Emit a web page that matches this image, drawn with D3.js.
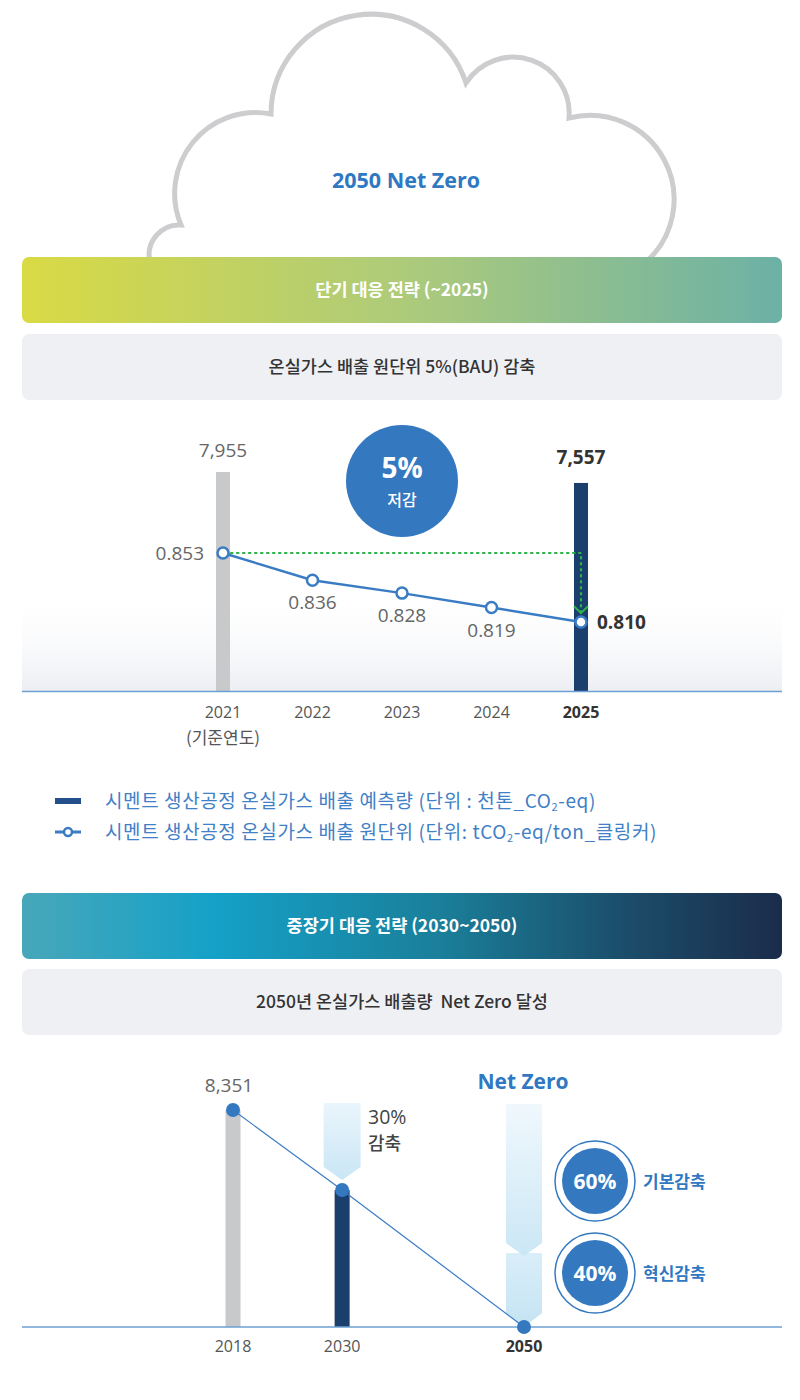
<!DOCTYPE html>
<html><head><meta charset="utf-8">
<script src="https://cdn.jsdelivr.net/npm/d3@7"></script>
<style>body{margin:0;background:#fff}svg{display:block}</style>
</head><body><svg id="c" width="800" height="1400"></svg>
<script>
// ---- data ----
const shortYears = ["2021","2022","2023","2024","2025"];
const shortIntensity = [0.853,0.836,0.828,0.819,0.810];
const barYears = ["2021","2025"];
const barValues = [7955,7557];
const longYears = [2018,2030,2050];
const longValues = [8351,5270,0];
const reductionShares = [60,40];
const reductionLabels = ["기본감축","혁신감축"];
const legendLabels = ["시멘트 생산공정 온실가스 배출 예측량 (단위 : 천톤_CO","시멘트 생산공정 온실가스 배출 원단위 (단위: tCO"];
const legendSuffix = ["-eq)","-eq/ton_클링커)"];

const KR = "'Noto Sans CJK KR','Noto Sans',sans-serif";
const NUM = "'Open Sans','Noto Sans',sans-serif";
const svg = d3.select("#c");
const defs = svg.append("defs");
function lg(id, stops, vertical){
  const g = defs.append("linearGradient").attr("id",id);
  if(vertical) g.attr("x1",0).attr("y1",0).attr("x2",0).attr("y2",1);
  stops.forEach(s=>g.append("stop").attr("offset",s[0]).attr("stop-color",s[1]).attr("stop-opacity",s[2]==null?1:s[2]));
}
lg("hdr1",[[0,"#d9da44"],[0.5,"#aecb7a"],[1,"#6cb1a6"]]);
lg("hdr2",[[0,"#48a7b9"],[0.25,"#15a1c8"],[0.55,"#1a7f9a"],[0.8,"#1b4c69"],[1,"#1b2c4b"]]);
lg("bg1",[[0,"#ffffff",0],[1,"#eceef3",1]],true);
lg("arr1",[[0,"#eaf5fc"],[1,"#c9e6f5"]],true);
lg("arr2",[[0,"#f0f8fd"],[1,"#cbe7f5"]],true);
lg("arr3",[[0,"#d9eef9"],[1,"#c5e3f3"]],true);

// ---- cloud ----
svg.append("path")
  .attr("d","M150,262 A30,30 0 0 1 181,225 A81,81 0 0 1 271,114 A100,100 0 0 1 466,83 A56,56 0 0 1 569,118 A84,84 0 0 1 646,262")
  .attr("fill","none").attr("stroke","#cdcdcf").attr("stroke-width",5);
svg.append("text").attr("x",406).attr("y",188).attr("text-anchor","middle")
  .attr("font-family",NUM).attr("font-weight",700).attr("font-size",21.5).attr("fill","#2f78c2").text("2050 Net Zero");

// ---- section boxes ----
function box(y, fill, txt, color, weight){
  svg.append("rect").attr("x",22).attr("y",y).attr("width",760).attr("height",66).attr("rx",7).attr("fill",fill);
  svg.append("text").attr("x",402).attr("y",y+39).attr("text-anchor","middle")
    .attr("font-family",KR).attr("font-size",17.5).attr("font-weight",weight).attr("fill",color)
    .style("white-space","pre").text(txt);
}
box(257,"url(#hdr1)","단기 대응 전략 (~2025)","#ffffff",700);
box(334,"#eff0f4","온실가스 배출 원단위 5%(BAU) 감축","#333333",500);
box(893,"url(#hdr2)","중장기 대응 전략 (2030~2050)","#ffffff",700);
box(969,"#eff0f4","2050년 온실가스 배출량  Net Zero 달성","#333333",500);

// ---- chart 1 ----
const x1 = d3.scalePoint().domain(shortYears).range([223,581]);
const yb1 = d3.scaleLinear().domain([0,7955]).range([691,472]);
const yl1 = d3.scaleLinear().domain([0.853,0.810]).range([553,622]);

svg.append("rect").attr("x",22).attr("y",590).attr("width",760).attr("height",101).attr("fill","url(#bg1)");

const bars = barYears.map((y,i)=>({year:y,value:barValues[i]}));
svg.selectAll(".b1").data(bars).enter().append("rect")
  .attr("x",d=>x1(d.year)-7).attr("width",14)
  .attr("y",d=>yb1(d.value)).attr("height",d=>yb1(0)-yb1(d.value))
  .attr("fill",(d,i)=>i===0?"#c8c9cb":"#1a3f6d");
svg.selectAll(".bl1").data(bars).enter().append("text")
  .attr("x",d=>x1(d.year)).attr("y",(d,i)=>i===0?457:464).attr("text-anchor","middle")
  .attr("font-family",NUM).attr("font-size",19)
  .attr("font-weight",(d,i)=>i===0?400:700).attr("fill",(d,i)=>i===0?"#666":"#333")
  .text(d=>d3.format(",")(d.value));

// baseline
svg.append("line").attr("x1",22).attr("x2",782).attr("y1",691.5).attr("y2",691.5).attr("stroke","#6d9fd3").attr("stroke-width",1.5);

// 5% bubble
svg.append("circle").attr("cx",402).attr("cy",481).attr("r",56).attr("fill","#3479c0");
svg.append("text").attr("x",402).attr("y",478).attr("text-anchor","middle").attr("font-family",NUM).attr("font-weight",700).attr("font-size",28).attr("fill","#fff").text("5%");
svg.append("text").attr("x",402).attr("y",506).attr("text-anchor","middle").attr("font-family",KR).attr("font-weight",500).attr("font-size",16).attr("fill","#fff").text("저감");

// green dotted reference
const gy = yl1(shortIntensity[0]);
const gx = x1("2025");
svg.append("path").attr("d",`M${x1("2021")+8},${gy} H${gx} V${yl1(0.8155)}`)
  .attr("fill","none").attr("stroke","#2db24a").attr("stroke-width",2.2).attr("stroke-dasharray","1.5,4.5").attr("stroke-linecap","round");
svg.append("path").attr("d",`M${gx-7},${yl1(0.8155)-7} L${gx},${yl1(0.8155)} L${gx+7},${yl1(0.8155)-7}`)
  .attr("fill","none").attr("stroke","#2db24a").attr("stroke-width",2);

// intensity line
const pts = shortYears.map((y,i)=>({year:y,v:shortIntensity[i]}));
svg.append("path").datum(pts)
  .attr("d",d3.line().x(d=>x1(d.year)).y(d=>yl1(d.v)))
  .attr("fill","none").attr("stroke","#3a7cc4").attr("stroke-width",2.5);
svg.selectAll(".p1").data(pts).enter().append("circle")
  .attr("cx",d=>x1(d.year)).attr("cy",d=>yl1(d.v)).attr("r",5.5)
  .attr("fill","#fff").attr("stroke","#3a7cc4").attr("stroke-width",2.5);
svg.selectAll(".pl1").data(pts).enter().append("text")
  .attr("x",(d,i)=>i===0?x1(d.year)-19:i===4?x1(d.year)+16:x1(d.year))
  .attr("y",(d,i)=>i===0?yl1(d.v)+7:i===4?yl1(d.v)+7:yl1(d.v)+29)
  .attr("text-anchor",(d,i)=>i===0?"end":i===4?"start":"middle")
  .attr("font-family",NUM).attr("font-size",19)
  .attr("font-weight",(d,i)=>i===4?700:400).attr("fill",(d,i)=>i===4?"#333":"#666")
  .text(d=>d3.format(".3f")(d.v));

// x labels
svg.selectAll(".xl1").data(shortYears).enter().append("text")
  .attr("x",d=>x1(d)).attr("y",718).attr("text-anchor","middle")
  .attr("font-family",NUM).attr("font-size",16)
  .attr("font-weight",(d,i)=>i===4?700:400).attr("fill",(d,i)=>i===4?"#333":"#555").text(d=>d);
svg.append("text").attr("x",x1("2021")).attr("y",744).attr("text-anchor","middle")
  .attr("font-family",KR).attr("font-size",17).attr("fill","#555").text("(기준연도)");

// legend
legendLabels.forEach((t,i)=>{
  const ly = 801 + i*31;
  if(i===0){
    svg.append("rect").attr("x",55).attr("y",ly-3).attr("width",26).attr("height",6).attr("fill","#23508a");
  } else {
    svg.append("line").attr("x1",55).attr("x2",81).attr("y1",ly).attr("y2",ly).attr("stroke","#3a7cc4").attr("stroke-width",3);
    svg.append("circle").attr("cx",68).attr("cy",ly).attr("r",4).attr("fill","#fff").attr("stroke","#3a7cc4").attr("stroke-width",2.5);
  }
  const tx = svg.append("text").attr("x",105).attr("y",ly+7)
    .attr("font-family",KR).attr("font-size",19).attr("letter-spacing",0.6).attr("fill","#3f80c6");
  tx.append("tspan").text(t);
  tx.append("tspan").attr("font-size",11).attr("dy",3).text("2");
  tx.append("tspan").attr("dy",-3).text(legendSuffix[i]);
});

// ---- chart 2 ----
const x2 = d3.scaleLinear().domain([2018,2050]).range([233,524]);
const y2 = d3.scaleLinear().domain([0,8351]).range([1327,1110]);
const lp = longYears.map((y,i)=>({year:y,v:longValues[i]}));

// arrows
function chevron(cx, top, sideBottom, tip, w, fill){
  svg.append("path").attr("d",`M${cx-w/2},${top} H${cx+w/2} V${sideBottom} L${cx},${tip} L${cx-w/2},${sideBottom} Z`).attr("fill",fill);
}
chevron(x2(2030),1103,1167,1180,37,"url(#arr1)");
chevron(x2(2050),1253,1313,1327,36,"url(#arr3)");
chevron(x2(2050),1104,1243,1256,36,"url(#arr2)");

svg.selectAll(".b2").data(lp.filter(d=>d.v>0)).enter().append("rect")
  .attr("x",d=>x2(d.year)-7.5).attr("width",15)
  .attr("y",d=>y2(d.v)).attr("height",d=>y2(0)-y2(d.v))
  .attr("fill",(d,i)=>i===0?"#c8c9cb":"#1a3f6d");

svg.append("line").attr("x1",22).attr("x2",782).attr("y1",1327).attr("y2",1327).attr("stroke","#6d9fd3").attr("stroke-width",1.5);

svg.append("path").datum(lp).attr("d",d3.line().x(d=>x2(d.year)).y(d=>y2(d.v)))
  .attr("fill","none").attr("stroke","#3a7cc4").attr("stroke-width",1.2);
svg.selectAll(".p2").data(lp).enter().append("circle")
  .attr("cx",d=>x2(d.year)).attr("cy",d=>y2(d.v)).attr("r",7).attr("fill","#3479c0");

svg.append("text").attr("x",x2(2018)-4).attr("y",1092).attr("text-anchor","middle")
  .attr("font-family",NUM).attr("font-size",19).attr("fill","#666").text(d3.format(",")(longValues[0]));

svg.append("text").attr("x",368).attr("y",1124).attr("font-family",NUM).attr("font-size",19.5).attr("fill","#444").text("30%");
svg.append("text").attr("x",368).attr("y",1150).attr("font-family",KR).attr("font-size",18).attr("font-weight",500).attr("fill","#444").text("감축");

svg.append("text").attr("x",x2(2050)-1).attr("y",1089).attr("text-anchor","middle")
  .attr("font-family",NUM).attr("font-weight",700).attr("font-size",21).attr("fill","#2f78c2").text("Net Zero");

svg.selectAll(".xl2").data(longYears).enter().append("text")
  .attr("x",d=>x2(d)).attr("y",1352).attr("text-anchor","middle")
  .attr("font-family",NUM).attr("font-size",16)
  .attr("font-weight",(d,i)=>i===2?700:400).attr("fill",(d,i)=>i===2?"#333":"#555").text(d=>d);

reductionShares.forEach((s,i)=>{
  const cy = 1181 + i*92, cx = 595;
  svg.append("circle").attr("cx",cx).attr("cy",cy).attr("r",40).attr("fill","#fff").attr("stroke","#3479c0").attr("stroke-width",1.5);
  svg.append("circle").attr("cx",cx).attr("cy",cy).attr("r",33).attr("fill","#3479c0");
  svg.append("text").attr("x",cx).attr("y",cy+8).attr("text-anchor","middle")
    .attr("font-family",NUM).attr("font-weight",700).attr("font-size",21).attr("fill","#fff").text(s+"%");
  svg.append("text").attr("x",643).attr("y",cy+7)
    .attr("font-family",KR).attr("font-weight",700).attr("font-size",17).attr("fill","#2f78c2").text(reductionLabels[i]);
});
</script></body></html>
